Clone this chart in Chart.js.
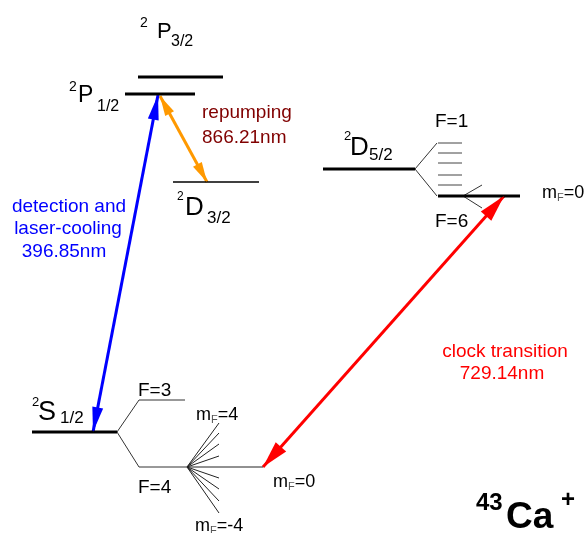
<!DOCTYPE html>
<html>
<head>
<meta charset="utf-8">
<script src="https://cdn.jsdelivr.net/npm/chart.js@4/dist/chart.umd.min.js"></script>
<style>
  html, body { margin: 0; padding: 0; background: #fff; }
  #wrap { width: 585px; height: 533px; }
</style>
</head>
<body>
<div id="wrap"><canvas id="levels" width="585" height="533"></canvas></div>
<script>
// ---- Level scheme of 43Ca+ (diagram units, y grows downward) ----

// fine-structure levels
const levelNames = ['S1/2', 'P1/2', 'P3/2', 'D3/2', 'D5/2'];
const levelStart = [32, 125, 138, 173, 323];
const levelEnd   = [117, 195, 223, 259, 415];
const levelY     = [432, 94, 77, 182, 169];

// S1/2 hyperfine split (F=3, F=4)
const sHfF      = [3, 4];
const sHfY      = [400, 467];
const sHfStart  = 139;
const sHfEnd    = [185, 187];

// Zeeman fan of S1/2 F=4, mF = -4 .. 4
const sZeemanM  = [-4, -3, -2, -1, 0, 1, 2, 3, 4];
const sZeemanY  = [513, 501, 489, 478, 467, 456, 444, 433, 423];
const sZeemanFrom = 187;
const sZeemanTo   = 219;
const sZeemanM0To = 263;

// D5/2 hyperfine split, F = 1 .. 6
const dHfF     = [1, 2, 3, 4, 5, 6];
const dHfY     = [143, 153, 163, 175, 185, 196];
const dHfStart = 438;
const dHfEnd   = [462, 462, 462, 462, 462, 520];
const dBranchX = 437;

// Zeeman sketch of D5/2 F=6
const dZeemanFrom = 463;
const dZeemanTo   = 482;
const dZeemanY    = [185, 208];

// laser transitions (double arrows)
const transNames = ['detection and laser-cooling 396.85nm', 'repumping 866.21nm', 'clock transition 729.14nm'];
const transFromX = [93, 207, 263];
const transFromY = [432, 182, 467];
const transToX   = [158, 160, 504];
const transToY   = [95, 96, 196];
const transColor = ['#0000ff', '#ff9900', '#ff0000'];

const FONT = '"Liberation Sans", Arial, sans-serif';
const pt = (x, y) => ({ x, y });

function seg(points, width, color) {
  return {
    data: points.map(([x, y]) => pt(x, y)),
    showLine: true,
    borderColor: color,
    borderWidth: width,
    pointRadius: 0,
    pointHoverRadius: 0,
    fill: false,
    tension: 0,
    clip: false,
    borderCapStyle: 'butt'
  };
}

// ---- Build datasets ----
const datasets = [];

// main levels
levelNames.forEach((n, i) => {
  const thin = n === 'D3/2';
  datasets.push(seg([[levelStart[i], levelY[i]], [levelEnd[i], levelY[i]]], thin ? 1.4 : 3, '#000'));
});

// S1/2 hyperfine branches
const sIdx = levelNames.indexOf('S1/2');
sHfF.forEach((f, i) => {
  datasets.push(seg([[levelEnd[sIdx], levelY[sIdx]], [sHfStart, sHfY[i]], [sHfEnd[i], sHfY[i]]], 1, '#333'));
});

// S1/2 F=4 Zeeman fan
sZeemanM.forEach((m, i) => {
  const x2 = m === 0 ? sZeemanM0To : sZeemanTo;
  datasets.push(seg([[sZeemanFrom, sHfY[1]], [x2, sZeemanY[i]]], 1, '#222'));
});

// D5/2 hyperfine branches + levels
const dIdx = levelNames.indexOf('D5/2');
datasets.push(seg([[dBranchX, dHfY[0]], [levelEnd[dIdx], levelY[dIdx]], [dBranchX, dHfY[dHfY.length - 1]]], 1, '#333'));
dHfF.forEach((f, i) => {
  datasets.push(seg([[dHfStart, dHfY[i]], [dHfEnd[i], dHfY[i]]], f === 6 ? 3 : 1, f === 6 ? '#000' : '#444'));
});
dZeemanY.forEach(yy => {
  datasets.push(seg([[dZeemanFrom, dHfY[5]], [dZeemanTo, yy]], 1, '#333'));
});

// transition shafts
transNames.forEach((n, i) => {
  datasets.push(seg([[transFromX[i], transFromY[i]], [transToX[i], transToY[i]]], 3, transColor[i]));
});

// ---- Arrow heads on both ends of every transition ----
const headLen  = [25, 20, 27];
const headHalf = [5.5, 5, 7];

function drawHead(ctx, tip, tail, len, half, color) {
  const dx = tip[0] - tail[0], dy = tip[1] - tail[1];
  const d = Math.hypot(dx, dy);
  const ux = dx / d, uy = dy / d;
  const bx = tip[0] - ux * len, by = tip[1] - uy * len;
  ctx.beginPath();
  ctx.moveTo(tip[0], tip[1]);
  ctx.lineTo(bx - uy * half, by + ux * half);
  ctx.lineTo(bx + uy * half, by - ux * half);
  ctx.closePath();
  ctx.fillStyle = color;
  ctx.fill();
}

const arrowHeads = {
  id: 'arrowHeads',
  afterDatasetsDraw(chart) {
    const { ctx, scales: { x, y } } = chart;
    ctx.save();
    transNames.forEach((n, i) => {
      const a = [x.getPixelForValue(transFromX[i]), y.getPixelForValue(transFromY[i])];
      const b = [x.getPixelForValue(transToX[i]), y.getPixelForValue(transToY[i])];
      drawHead(ctx, a, b, headLen[i], headHalf[i], transColor[i]);
      drawHead(ctx, b, a, headLen[i], headHalf[i], transColor[i]);
    });
    ctx.restore();
  }
};

// ---- Text labels: [text, x, baseline, size, color, align, bold] ----
const labels = [
  // 2P3/2
  ['2', 140, 27, 14], ['P', 157, 38, 22], ['3/2', 171, 46, 16],
  // 2P1/2
  ['2', 69, 91, 14], ['P', 78, 102, 23], ['1/2', 97, 111, 16],
  // 2D3/2
  ['2', 177, 200, 12], ['D', 185, 215, 26], ['3/2', 207, 223, 17],
  // 2S1/2
  ['2', 32, 406, 13], ['S', 38, 420, 27], ['1/2', 60, 423, 17],
  // 2D5/2
  ['2', 344, 140, 13], ['D', 350, 155, 26], ['5/2', 369, 160, 17],
  // hyperfine labels
  ['F=3', 138, 396, 19], ['F=4', 138, 493, 19],
  ['F=1', 435, 127, 19], ['F=6', 435, 227, 19],
  // transition labels
  ['repumping', 202, 118, 19, '#800000'], ['866.21nm', 202, 143, 19, '#800000'],
  ['detection and', 69, 212, 19, '#0000ff', 'center'],
  ['laser-cooling', 68, 234, 19, '#0000ff', 'center'],
  ['396.85nm', 64, 257, 19, '#0000ff', 'center'],
  ['clock transition', 505, 357, 19, '#ff0000', 'center'],
  ['729.14nm', 502, 379, 19, '#ff0000', 'center'],
  // ion name
  ['43', 476, 510, 24, '#000', 'left', true],
  ['Ca', 506, 528, 37, '#000', 'left', true],
  ['+', 561, 507, 24, '#000', 'left', true]
];

// m_F labels: [value, x, baseline]
const mfLabels = [['4', 196, 420], ['-4', 195, 531], ['0', 273, 487], ['0', 542, 198]];

const textLabels = {
  id: 'textLabels',
  afterDraw(chart) {
    const { ctx, scales: { x, y } } = chart;
    ctx.save();
    ctx.textBaseline = 'alphabetic';
    labels.forEach(([t, lx, ly, size, color, align, bold]) => {
      ctx.font = `${bold ? 'bold ' : ''}${size}px ${FONT}`;
      ctx.fillStyle = color || '#000';
      ctx.textAlign = align || 'left';
      ctx.fillText(t, x.getPixelForValue(lx), y.getPixelForValue(ly));
    });
    mfLabels.forEach(([v, lx, ly]) => {
      let px = x.getPixelForValue(lx);
      const py = y.getPixelForValue(ly);
      ctx.textAlign = 'left';
      ctx.fillStyle = '#000';
      ctx.font = `18px ${FONT}`;
      ctx.fillText('m', px, py);
      px += ctx.measureText('m').width;
      ctx.font = `11px ${FONT}`;
      ctx.fillStyle = '#555';
      ctx.fillText('F', px, py + 3);
      px += ctx.measureText('F').width;
      ctx.font = `18px ${FONT}`;
      ctx.fillStyle = '#000';
      ctx.fillText('=' + v, px, py);
    });
    ctx.restore();
  }
};

new Chart(document.getElementById('levels'), {
  type: 'scatter',
  data: { datasets },
  options: {
    responsive: false,
    animation: false,
    events: [],
    layout: { padding: 0 },
    plugins: { legend: { display: false }, tooltip: { enabled: false } },
    scales: {
      x: { type: 'linear', min: 0, max: 585, display: false },
      y: { type: 'linear', min: 0, max: 533, reverse: true, display: false }
    }
  },
  plugins: [arrowHeads, textLabels]
});
</script>
</body>
</html>
